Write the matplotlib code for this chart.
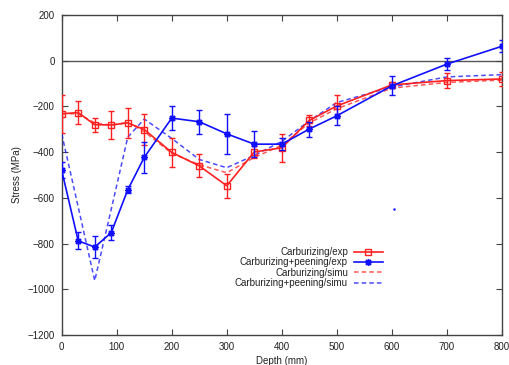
import matplotlib
matplotlib.use("Agg")
import matplotlib.pyplot as plt
from matplotlib.lines import Line2D

plt.rcParams['font.family'] = ['Liberation Sans', 'DejaVu Sans']

# Measured residual stress profiles
depth = [0, 30, 60, 90, 120, 150, 200, 250, 300, 350, 400, 450, 500, 600, 700, 800]

carb_exp = [-232, -227, -280, -281, -272, -301, -401, -460, -547, -399, -381, -261, -198, -106, -87, -80]
carb_err = [83, 52, 30, 62, 65, 67, 65, 50, 52, 28, 60, 25, 47, 15, 33, 32]

peen_exp = [-480, -788, -815, -752, -565, -423, -251, -267, -320, -365, -365, -299, -241, -110, -15, 63]
peen_err = [35, 37, 47, 33, 15, 66, 51, 53, 88, 57, 25, 33, 42, 41, 27, 26]

# Simulated profiles
carb_simu = [-232, -232, -272, -282, -270, -310, -405, -455, -490, -423, -370, -272, -210, -120, -95, -85]
peen_simu = [-320, -640, -962, -650, -335, -255, -340, -432, -468, -414, -353, -263, -183, -115, -71, -61]

stray_x = [604]
stray_y = [-650]

x_ticks = [0, 100, 200, 300, 400, 500, 600, 700, 800]
y_ticks = [200, 0, -200, -400, -600, -800, -1000, -1200]

labels = ['Carburizing/exp', 'Carburizing+peening/exp',
          'Carburizing/simu', 'Carburizing+peening/simu']

RED = '#ff2020'
BLUE = '#1010ff'
FRAME = '#444444'
DASH = (0, (3, 2))
STAR = (8, 2, 0)

fig = plt.figure(figsize=(5.10, 3.65), dpi=100)
ax = fig.add_axes([0.121, 0.082, 0.863, 0.877])

ax.axhline(0, color='#555555', lw=1.0, zorder=1)

ax.errorbar(depth, carb_exp, yerr=carb_err, color=RED, lw=1.2, elinewidth=1.0,
            capsize=2.5, capthick=1.0, marker='s', ms=4.5, mfc='none', mec=RED,
            mew=1.0, zorder=4)
ax.errorbar(depth, peen_exp, yerr=peen_err, color=BLUE, lw=1.2, elinewidth=1.0,
            capsize=2.5, capthick=1.0, marker=STAR, ms=5, mec=BLUE,
            mew=1.0, zorder=5)
ax.plot(depth, carb_simu, color=RED, lw=1.1, ls=DASH, alpha=0.75, zorder=3)
ax.plot(depth, peen_simu, color=BLUE, lw=1.1, ls=DASH, alpha=0.75, zorder=3)
ax.plot(stray_x, stray_y, ls='none', marker='.', ms=1.5, color=BLUE)

ax.set_xlim(0, 800)
ax.set_ylim(-1200, 200)
ax.set_xticks(x_ticks)
ax.set_yticks(y_ticks)
ax.tick_params(direction='in', length=4, width=0.8, colors=FRAME, labelsize=7,
               top=True, right=True, pad=5, labelcolor='#222222')
for s in ax.spines.values():
    s.set_color(FRAME)
    s.set_linewidth(1.0)

ax.set_xlabel('Depth (mm)', fontsize=7, color='#222222', labelpad=3)
ax.set_ylabel('Stress (MPa)', fontsize=7, color='#222222', labelpad=4)

handles = [
    Line2D([], [], color=RED, lw=1.2, marker='s', ms=4.5, mfc='none', mec=RED, mew=1.0),
    Line2D([], [], color=BLUE, lw=1.2, marker=STAR, ms=5, mec=BLUE, mew=1.0),
    Line2D([], [], color=RED, lw=1.1, ls=DASH, alpha=0.75),
    Line2D([], [], color=BLUE, lw=1.1, ls=DASH, alpha=0.75),
]
leg = ax.legend(handles, labels, loc='upper right', bbox_to_anchor=(0.741, 0.29),
                frameon=False, fontsize=7, markerfirst=False, handlelength=3.0,
                handletextpad=0.6, labelspacing=0.03, borderpad=0.0, numpoints=1)
for t in leg.get_texts():
    t.set_ha('right')
    t.set_color('#222222')

fig.savefig('out.png', dpi=100)
